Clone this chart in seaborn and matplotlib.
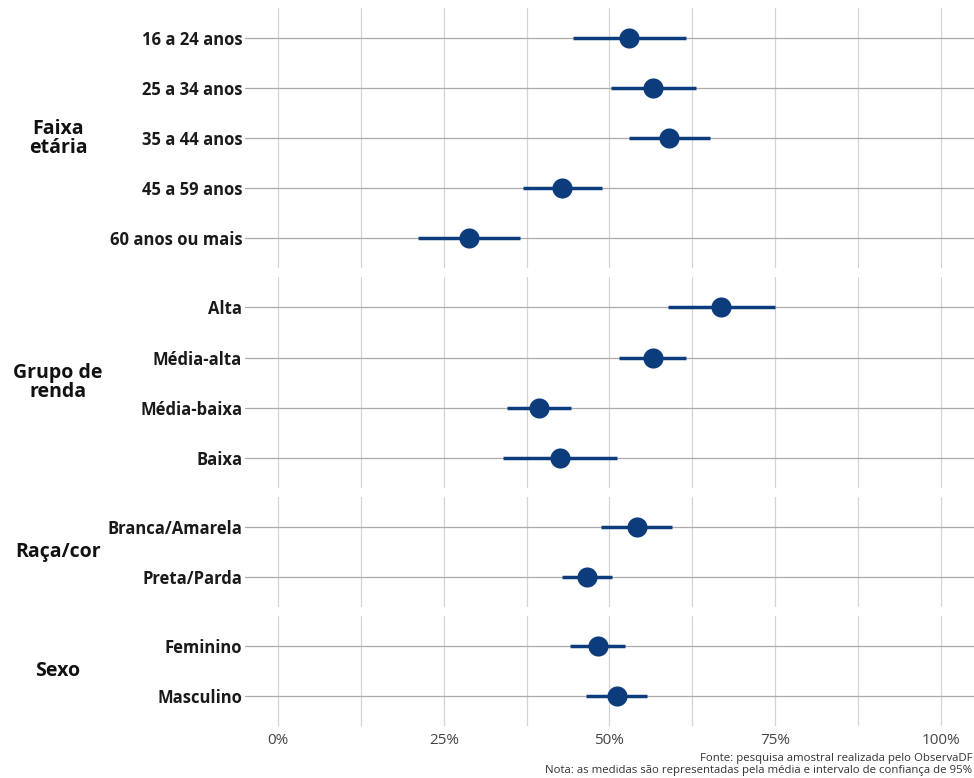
import matplotlib
matplotlib.use("Agg")
import matplotlib.pyplot as plt
import seaborn as sns
import pandas as pd
import numpy as np
from matplotlib.ticker import FixedLocator

groups = ["Faixa\netária", "Grupo de\nrenda", "Raça/cor", "Sexo"]
categories = [
    ["16 a 24 anos", "25 a 34 anos", "35 a 44 anos", "45 a 59 anos", "60 anos ou mais"],
    ["Alta", "Média-alta", "Média-baixa", "Baixa"],
    ["Branca/Amarela", "Preta/Parda"],
    ["Feminino", "Masculino"],
]
means = [
    [0.529, 0.566, 0.590, 0.429, 0.288],
    [0.668, 0.566, 0.393, 0.425],
    [0.541, 0.466],
    [0.482, 0.511],
]
lows = [
    [0.445, 0.503, 0.529, 0.369, 0.211],
    [0.588, 0.515, 0.345, 0.340],
    [0.487, 0.429],
    [0.441, 0.465],
]
highs = [
    [0.615, 0.630, 0.652, 0.488, 0.365],
    [0.749, 0.616, 0.442, 0.511],
    [0.595, 0.504],
    [0.523, 0.557],
]
x_ticks = [0, 0.25, 0.5, 0.75, 1.0]
x_tick_labels = ["0%", "25%", "50%", "75%", "100%"]
caption = ("Fonte: pesquisa amostral realizada pelo ObservaDF\n"
           "Nota: as medidas são representadas pela média e intervalo de confiança de 95%")

color = "#0d3c7c"

sns.set_theme(style="white")
plt.rcParams["font.family"] = ["Open Sans", "DejaVu Sans"]

fig = plt.figure(figsize=(9.74, 7.78), dpi=100)
heights = [len(c) + 0.2 for c in categories]
gs = fig.add_gridspec(len(groups), 1, height_ratios=heights, hspace=0.052,
                      left=0.2515, right=1.0, top=0.9897, bottom=0.0668)

for i, grp in enumerate(groups):
    ax = fig.add_subplot(gs[i])
    df = pd.DataFrame({"cat": categories[i], "mean": means[i],
                       "low": lows[i], "high": highs[i]})
    df["pos"] = np.arange(len(df))
    ax.hlines(df["pos"], df["low"], df["high"], color=color, lw=2.5, zorder=3)
    sns.scatterplot(data=df, x="mean", y="pos", ax=ax, color=color, s=210,
                    edgecolor=color, linewidth=0, zorder=4, legend=False)
    ax.set_xlim(-0.05, 1.05)
    ax.set_ylim(len(df) - 0.4, -0.6)
    ax.set_yticks(df["pos"])
    ax.set_yticklabels(df["cat"], fontweight="bold", fontsize=12, color="#1a1a1a")
    ax.xaxis.set_major_locator(FixedLocator(x_ticks))
    ax.xaxis.set_minor_locator(FixedLocator([0.125, 0.375, 0.625, 0.875]))
    ax.grid(axis="x", which="both", color="#d4d4d4", lw=0.9, zorder=0)
    ax.grid(axis="y", which="major", color="#ababab", lw=0.9, zorder=0)
    ax.set_axisbelow(True)
    ax.tick_params(axis="both", which="both", length=0)
    ax.tick_params(axis="y", pad=2)
    for s in ax.spines.values():
        s.set_visible(False)
    ax.set_xlabel("")
    ax.set_ylabel("")
    if i < len(groups) - 1:
        ax.set_xticklabels([])
    else:
        ax.set_xticklabels(x_tick_labels, fontsize=11, color="#444444")
        ax.tick_params(axis="x", pad=5)
    pos = ax.get_position()
    fig.text(58 / 974, (pos.y0 + pos.y1) / 2, grp, ha="center", va="center",
             fontsize=14, fontweight="bold", color="#111111", linespacing=0.95)

fig.text(0.998, 0.003, caption, ha="right", va="bottom", fontsize=8.2,
         color="#333333", linespacing=1.05)

fig.savefig("out.png", dpi=100)
